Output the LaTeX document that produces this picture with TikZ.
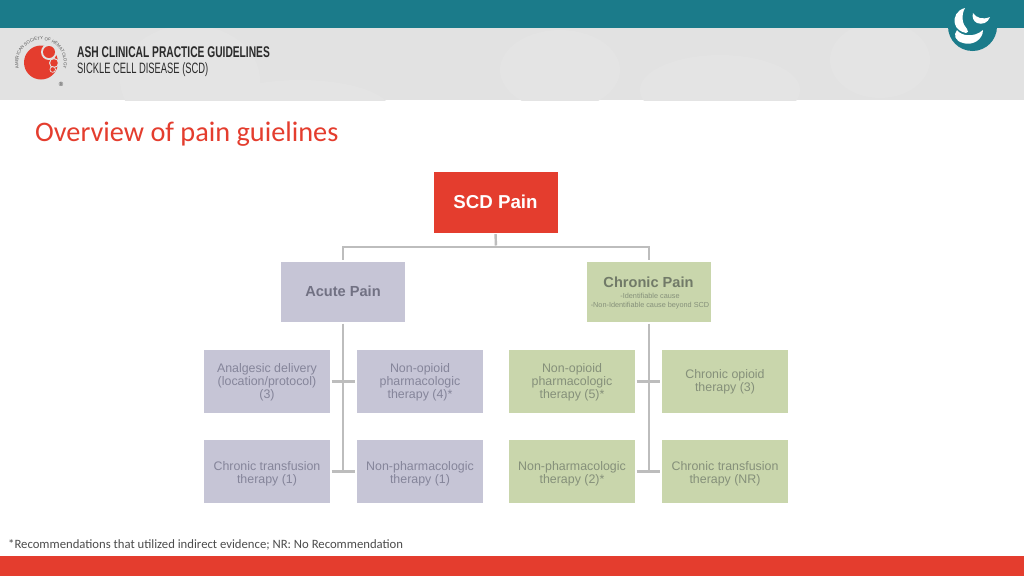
\documentclass[tikz,border=0pt]{standalone}
\usepackage{fontspec}
\setmainfont{Liberation Sans}
\newfontfamily\carlitofont{Carlito}
\newfontfamily\narrowbold[FakeStretch=0.66]{Liberation Sans Bold}
\newfontfamily\narrowreg[FakeStretch=0.624]{Liberation Sans}
\usetikzlibrary{decorations.text}
\definecolor{teal1}{HTML}{1B7B8A}
\definecolor{redbar}{HTML}{E43D2E}
\definecolor{hdr}{HTML}{E2E2E2}
\definecolor{hdrlight}{HTML}{E4E4E4}
\definecolor{purp}{HTML}{C6C5D6}
\definecolor{purptxt}{HTML}{85859A}
\definecolor{grn}{HTML}{C9D6AC}
\definecolor{grntxt}{HTML}{85907A}
\definecolor{conn}{HTML}{BDBDBD}
\definecolor{dark}{HTML}{2B2B2B}
\definecolor{ringtxt}{HTML}{555555}
\newcommand\lowr[1]{\rule{0pt}{#1pt}}
\tikzset{
  x=1pt,y=-1pt,
  box/.style={minimum width=#1,inner sep=0pt,align=center,anchor=center},
  pbox/.style={box=126pt,minimum height=63pt,fill=purp,text=purptxt,font=\fontsize{12.4}{13.4}\selectfont},
  gbox/.style={box=126pt,minimum height=63pt,fill=grn,text=grntxt,font=\fontsize{12.4}{13.4}\selectfont},
  link/.style={draw=conn,line width=2.4pt},
}
\begin{document}
\begin{tikzpicture}
\useasboundingbox (0,0) rectangle (1024,576);
\fill[white] (0,0) rectangle (1024,576);
% header band
\fill[hdr] (0,28) rectangle (1024,100);
\begin{scope}
\clip (0,28) rectangle (1024,100);
\fill[hdrlight] (190,80) ellipse (70 and 55);
\fill[hdrlight] (300,110) ellipse (90 and 30);
\fill[hdrlight] (560,70) ellipse (60 and 40);
\fill[hdrlight] (720,90) ellipse (80 and 35);
\fill[hdrlight] (880,60) ellipse (50 and 38);
\end{scope}
\fill[teal1] (0,0) rectangle (1024,28);
\fill[redbar] (0,556) rectangle (1024,576);
% ASH logo
\fill[redbar] (41,62.5) circle (17);
\fill[hdr] (49,52) circle (8);
\fill[redbar] (49,52) circle (6);
\fill[hdr] (54,63) circle (5);
\fill[redbar] (54,63) circle (3.8);
\fill[hdr] (52.7,69.5) circle (3.2);
\fill[redbar] (52.7,69.5) circle (2.3);
\path[postaction={decorate,decoration={text along path,text align=center,
  text={|\fontsize{4.4}{5}\selectfont\color{ringtxt}|AMERICAN SOCIETY OF HEMATOLOGY}}}]
  (25.2,79.1) arc[start angle=134,end angle=406,radius=22.8];
\node[inner sep=0pt,font=\fontsize{6}{6}\selectfont,text=dark] (reg) at (61,84) {®};
\node[anchor=west,inner sep=0pt,font=\narrowbold\fontsize{15.5}{15}\selectfont,text=dark] (ashA) at (77,52.5) {ASH CLINICAL PRACTICE GUIDELINES};
\node[anchor=west,inner sep=0pt,font=\narrowreg\fontsize{15}{15}\selectfont,text=dark] (ashB) at (77,69.5) {SICKLE CELL DISEASE (SCD)};
% right logo
\fill[teal1] (972.5,26.5) circle (24.5);
\fill[white] (965,8) .. controls (957,10) and (953,17) .. (955,24) .. controls (956,29) and (961,32) .. (966,33) .. controls (968,33) and (969,31) .. (967,29) .. controls (962,24) and (961,15) .. (965,8) -- cycle;
\fill[white] (973,13) .. controls (976,18) and (983,20) .. (990,17) .. controls (988,23) and (982,25) .. (977,23) .. controls (973,21) and (972,17) .. (973,13) -- cycle;
\fill[white] (957,30) .. controls (961,36) and (974,38) .. (983,30) .. controls (983,40) and (972,46) .. (963,43) .. controls (955,41) and (953,35) .. (957,30) -- cycle;
% title
\node[anchor=west,inner sep=0pt,font=\carlitofont\fontsize{28.3}{30}\selectfont,text=redbar] (title) at (35,134) {Overview of pain guielines};
% boxes
\node[box=124pt,minimum height=61pt,fill=redbar,text=white,font=\bfseries\fontsize{18.7}{20}\selectfont] (scd) at (495.5,202.5) {\raisebox{1.5pt}{SCD Pain}};
\node[box=124pt,minimum height=60pt,fill=purp,text=purptxt!85!black,font=\bfseries\fontsize{14.6}{16}\selectfont] (acute) at (343,292) {\raisebox{1.5pt}{Acute Pain}};
\node[box=124pt,minimum height=60pt,fill=grn] (chronic) at (649,292) {};
\node[inner sep=0pt,text=grntxt!85!black,font=\bfseries\fontsize{14.6}{16}\selectfont] (chronicT) at (648.5,282) {Chronic Pain};
\node[inner sep=0pt,align=center,text=grntxt,font=\fontsize{7.3}{8.6}\selectfont] (chronicS) at (650,301) {-Identifiable cause\\-Non-Identifiable cause beyond SCD};
\node[pbox] (a1) at (267,381.5) {\lowr{10.5}Analgesic delivery\\(location/protocol)\\(3)};
\node[pbox] (a2) at (420,381.5) {\lowr{10.5}Non-opioid\\pharmacologic\\therapy (4)*};
\node[pbox] (a3) at (267,471.5) {\lowr{13}Chronic transfusion\\therapy (1)};
\node[pbox] (a4) at (420,471.5) {\lowr{13}Non-pharmacologic\\therapy (1)};
\node[gbox] (c1) at (572,381.5) {\lowr{10.5}Non-opioid\\pharmacologic\\therapy (5)*};
\node[gbox] (c2) at (725,381.5) {\lowr{10}Chronic opioid\\therapy (3)};
\node[gbox] (c3) at (572,471.5) {\lowr{13}Non-pharmacologic\\therapy (2)*};
\node[gbox] (c4) at (725,471.5) {\lowr{13}Chronic transfusion\\therapy (NR)};
% connectors
\coordinate (top) at (496,247);
\draw[link,shorten <=1pt,shorten >=1.5pt] (scd.south) -- (top);
\draw[link,shorten >=1.5pt] (top) -| (acute.north);
\draw[link,shorten >=1.5pt] (top) -| (chronic.north);
\coordinate (am) at (acute.south |- a4.west);
\coordinate (cm) at (chronic.south |- c3.east);
\draw[link,shorten <=1.5pt] (acute.south) -- (am);
\draw[link,shorten <=1.5pt] (chronic.south) -- (cm);
\draw[link,shorten <=1.5pt,shorten >=1.5pt] (a1.east) -- (a2.west);
\draw[link,shorten <=1.5pt,shorten >=1.5pt] (a3.east) -- (a4.west);
\draw[link,shorten <=1.5pt,shorten >=1.5pt] (c1.east) -- (c2.west);
\draw[link,shorten <=1.5pt,shorten >=1.5pt] (c3.east) -- (c4.west);
% footnote
\node[anchor=west,inner sep=0pt,font=\carlitofont\fontsize{12.7}{14}\selectfont,text=black!70] (foot) at (8,544.5) {*Recommendations that utilized indirect evidence; NR: No Recommendation};
\end{tikzpicture}
\end{document}
